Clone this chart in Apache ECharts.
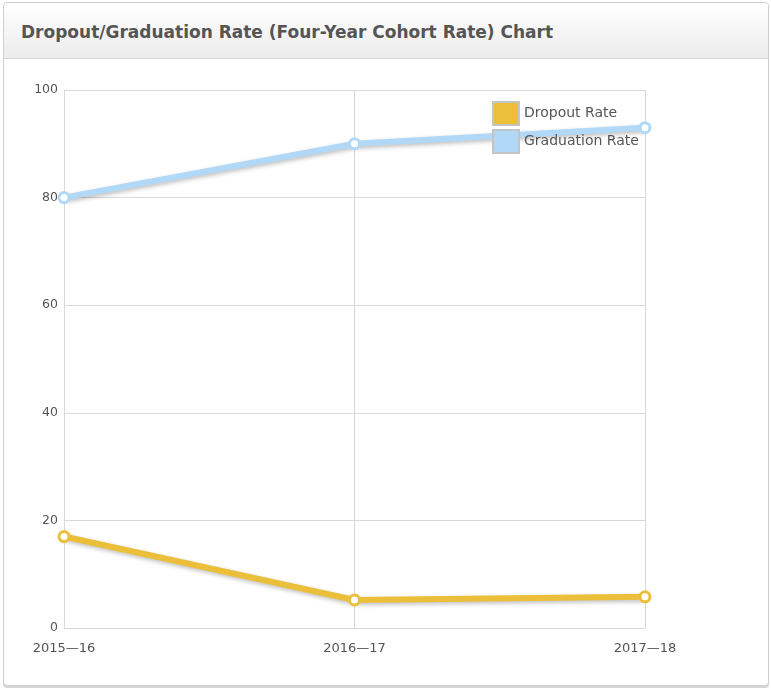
<!DOCTYPE html>
<html>
<head>
<meta charset="utf-8">
<script src="https://cdn.jsdelivr.net/npm/echarts@6/dist/echarts.min.js"></script>
<style>
  html, body { margin: 0; padding: 0; background: #fff; }
  #panel {
    position: absolute; left: 3px; top: 2px; width: 764px; height: 682px;
    border: 1px solid #cfcfcf; border-radius: 4px;
    box-shadow: 0 2px 0 #d6d6d6;
    background: #fff;
  }
  #head {
    height: 55px; border-bottom: 1px solid #d4d4d4;
    background: linear-gradient(#ffffff, #ececec);
    border-radius: 4px 4px 0 0;
  }
  #head h3 {
    margin: 0; padding: 19px 0 0 17px;
    font-family: "DejaVu Sans", Verdana, sans-serif; font-weight: bold;
    font-size: 17px; color: #555; letter-spacing: 0;
  }
  #chart { position: absolute; left: 0; top: 0; width: 771px; height: 690px; }
</style>
</head>
<body>
<div id="panel"><div id="head"><h3>Dropout/Graduation Rate (Four-Year Cohort Rate) Chart</h3></div></div>
<div id="chart"></div>
<script>
// School years on the x axis
const years = ['2015\u201416', '2016\u201417', '2017\u201418'];
// Four-year cohort rates, in percent
const dropoutRate = [17, 5.2, 5.8];
const graduationRate = [80, 90, 93];
const seriesNames = ['Dropout Rate', 'Graduation Rate'];
const seriesColors = ['#ecbf3b', '#b1d8f6'];

const chart = echarts.init(document.getElementById('chart'), null, { renderer: 'canvas' });

function lineSeries(name, data, color) {
  return {
    name: name,
    type: 'line',
    data: data,
    symbol: 'circle',
    symbolSize: 10,
    showAllSymbol: true,
    itemStyle: { color: '#fff', borderColor: color, borderWidth: 3 },
    lineStyle: {
      color: color, width: 6,
      shadowColor: 'rgba(0,0,0,0.25)', shadowBlur: 4, shadowOffsetX: 1, shadowOffsetY: 2
    },
    emphasis: { disabled: true },
    animation: false
  };
}

chart.setOption({
  animation: false,
  textStyle: { fontFamily: '"DejaVu Sans", Verdana, sans-serif' },
  grid: { left: 64, right: 126, top: 90, bottom: 62, containLabel: false },
  legend: {
    data: seriesNames.map((n, i) => ({ name: n, itemStyle: { color: seriesColors[i] } })),
    orient: 'vertical',
    left: 487, top: 96,
    icon: 'rect',
    itemWidth: 26, itemHeight: 23, itemGap: 3,
    itemStyle: { borderColor: '#c4c4c4', borderWidth: 2 },
    textStyle: { color: '#555', fontSize: 14 },
    selectedMode: false
  },
  xAxis: {
    type: 'category',
    data: years,
    boundaryGap: false,
    axisLine: { show: true, lineStyle: { color: '#d8d8d8' } },
    axisTick: { show: false },
    splitLine: { show: true, lineStyle: { color: '#d8d8d8' } },
    axisLabel: { color: '#555', fontSize: 13, margin: 14, showMinLabel: true, showMaxLabel: true }
  },
  yAxis: {
    type: 'value',
    min: 0, max: 100, interval: 20,
    axisLine: { show: true, lineStyle: { color: '#d8d8d8' } },
    axisTick: { show: false },
    splitLine: { show: true, lineStyle: { color: '#d8d8d8' } },
    axisLabel: { color: '#555', fontSize: 12.5, margin: 6 }
  },
  series: [
    lineSeries(seriesNames[0], dropoutRate, seriesColors[0]),
    lineSeries(seriesNames[1], graduationRate, seriesColors[1])
  ]
});
</script>
</body>
</html>
